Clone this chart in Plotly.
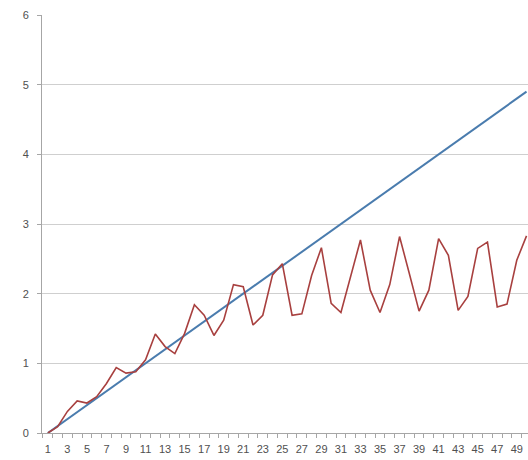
import plotly.graph_objects as go

categories = list(range(1, 51))
linear_values = [round(0.1 * (i - 1), 2) for i in categories]
oscillating_values = [
    0.00, 0.09, 0.31, 0.46, 0.43, 0.52, 0.71, 0.94, 0.86, 0.88,
    1.05, 1.42, 1.24, 1.14, 1.43, 1.84, 1.69, 1.40, 1.62, 2.13,
    2.10, 1.55, 1.69, 2.27, 2.43, 1.69, 1.71, 2.26, 2.66, 1.86,
    1.73, 2.24, 2.77, 2.05, 1.73, 2.13, 2.82, 2.29, 1.75, 2.05,
    2.79, 2.55, 1.76, 1.96, 2.65, 2.74, 1.81, 1.85, 2.48, 2.83,
]
x_tick_vals = [i for i in categories if i % 2 == 1]
x_tick_text = [str(i) for i in x_tick_vals]
y_tick_vals = [0, 1, 2, 3, 4, 5, 6]

fig = go.Figure()
fig.add_trace(go.Scatter(x=categories, y=linear_values, mode="lines",
                         line=dict(color="#4a7cae", width=2), showlegend=False))
fig.add_trace(go.Scatter(x=categories, y=oscillating_values, mode="lines",
                         line=dict(color="#a8403f", width=1.6), showlegend=False))

font = dict(family="Liberation Sans, Arial, sans-serif", size=11, color="#505050")
fig.update_layout(
    width=528, height=460,
    margin=dict(l=42, r=0, t=15, b=27),
    paper_bgcolor="white", plot_bgcolor="white",
    font=font,
)
fig.update_xaxes(
    range=[0.4, 50.15], tickvals=x_tick_vals, ticktext=x_tick_text,
    ticks="", showgrid=False, showline=True, linecolor="#a6a6a6", linewidth=1,
    tickfont=font, ticklabelstandoff=6, zeroline=False,
    minor=dict(tick0=0.5, dtick=1, ticks="outside", ticklen=4, tickcolor="#a6a6a6", showgrid=False),
)
fig.update_yaxes(
    range=[0, 6], tickvals=y_tick_vals, showgrid=True, gridcolor="#cfcfcf", gridwidth=1,
    showline=True, linecolor="#a6a6a6", linewidth=1, ticks="outside", ticklen=4,
    tickcolor="#a6a6a6", tickfont=font, zeroline=False, ticklabelstandoff=6,
)
fig.write_html(
    "out.html",
    config={"displayModeBar": False},
    post_script="document.body.style.margin='0';document.body.style.padding='0';document.body.style.overflow='hidden';",
)
